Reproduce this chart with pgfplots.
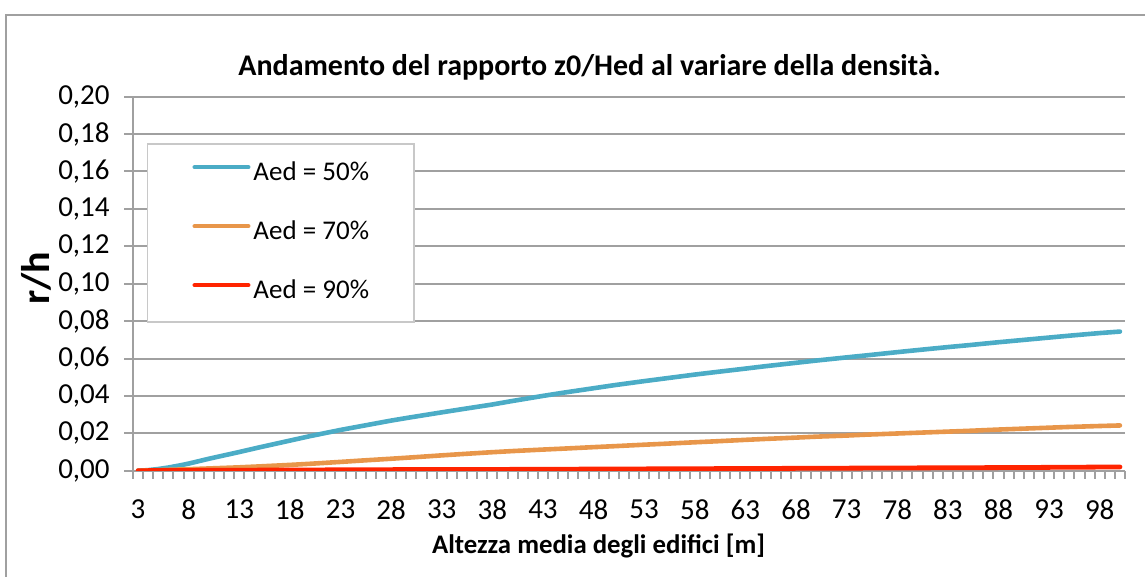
\documentclass[border=0pt]{standalone}
\usepackage{fontspec}
\setmainfont{Carlito}
\usepackage{pgfplots}
\usepackage{pgfplotstable}
\pgfplotsset{compat=1.18}
\definecolor{cblue}{HTML}{4BACC6}
\definecolor{corange}{HTML}{E8964A}
\definecolor{cred}{HTML}{FF2400}
\definecolor{cgrid}{HTML}{A0A0A0}
\definecolor{cleg}{HTML}{C8C8C8}

\pgfplotstableread{
x y
3 0
4 0.0003
5 0.0009
6 0.0017
7 0.0027
8 0.0038
10 0.0064
13 0.0100
15 0.0125
18 0.0161
20 0.0185
23 0.0218
25 0.0238
28 0.0268
30 0.0286
33 0.0312
35 0.0329
38 0.0354
40 0.0373
43 0.0400
45 0.0417
48 0.0441
50 0.0457
53 0.0479
55 0.0493
58 0.0514
60 0.0527
63 0.0546
65 0.0559
68 0.0577
70 0.0589
73 0.0606
75 0.0617
78 0.0634
80 0.0645
83 0.0661
85 0.0671
88 0.0687
90 0.0697
93 0.0712
95 0.0722
98 0.0736
100 0.0744
}\blueT

\pgfplotstableread{
x y
3 0
5 0.0003
8 0.0008
10 0.0012
13 0.0018
15 0.0023
18 0.0031
20 0.0037
23 0.0047
25 0.0054
28 0.0064
30 0.0071
33 0.0082
35 0.0089
38 0.0099
40 0.0105
43 0.0113
45 0.0118
48 0.0126
50 0.0131
53 0.0139
55 0.0144
58 0.0152
60 0.0157
63 0.0165
65 0.0170
68 0.0177
70 0.0182
73 0.0188
75 0.0193
78 0.0199
80 0.0203
83 0.0209
85 0.0213
88 0.0220
90 0.0224
93 0.0230
95 0.0234
98 0.0239
100 0.0242
}\orangeT

\pgfplotstableread{
x y
3 0
10 0.0002
20 0.0004
30 0.0006
40 0.0007
50 0.0009
60 0.0011
70 0.0013
80 0.0015
90 0.0017
100 0.0020
}\redT

\begin{document}
\begin{tikzpicture}
\path[use as bounding box] (0,0) rectangle (572.5pt,-288.5pt);
\draw[cgrid, line width=1pt] (3pt,-288.5pt) -- (3pt,-7.5pt) -- (572.5pt,-7.5pt);
\begin{axis}[
  at={(66.5pt,-235.35pt)}, anchor=south west,
  scale only axis, width=496pt, height=187pt,
  xmin=2.5, xmax=100.5, ymin=0, ymax=0.2,
  axis lines*=left,
  axis line style={cgrid, line width=1pt},
  /pgf/number format/assume math mode=true,
  xtick={3,8,...,98},
  minor xtick={2.5,3.5,...,100.5},
  major x tick style={draw=none},
  minor x tick style={cgrid, line width=1pt},
  ytick={0,0.02,0.04,0.06,0.08,0.10,0.12,0.14,0.16,0.18,0.20},
  y tick style={cgrid, line width=1pt},
  tick align=outside,
  major tick length=4.5pt,
  minor tick length=4pt,
  ymajorgrids,
  major grid style={cgrid, line width=1pt},
  yticklabel style={/pgf/number format/.cd, fixed, fixed zerofill, precision=2, use comma, /tikz/.cd,
    font=\fontsize{14.5}{17}\selectfont, anchor=east, inner sep=0pt, xshift=-7pt},
  xticklabel style={font=\fontsize{14.5}{17}\selectfont, anchor=north, inner sep=0pt, yshift=-10pt},
  legend style={at={(rel axis cs:0.0138,0.8754)}, anchor=north west, draw=cleg, line width=0.8pt,
    fill=white, inner xsep=22.5pt, inner ysep=9pt, row sep=17.5pt, column sep=1.5pt,
    font=\fontsize{13.5}{16}\selectfont,
    nodes={inner sep=0pt, text height=9pt, text depth=3pt}},
  legend cell align=left,
  legend image code/.code={\draw[#1, line width=2.3pt, line cap=round] (0pt,3.5pt) -- (26.7pt,3.5pt);},
]
\addplot[cblue, line width=2.3pt, line cap=round, line join=round] table[x=x,y=y] {\blueT};
\addlegendentry{Aed = 50\%}
\addplot[corange, line width=2.3pt, line cap=round, line join=round] table[x=x,y=y] {\orangeT};
\addlegendentry{Aed = 70\%}
\addplot[cred, line width=2.4pt, line cap=round, line join=round] table[x=x,y=y] {\redT};
\addlegendentry{Aed = 90\%}
\end{axis}
\node[anchor=base, font=\fontsize{15}{18}\selectfont\bfseries] at (294.75pt,-38pt) {Andamento del rapporto z0/Hed al variare della densità.};
\node[anchor=base, font=\fontsize{13.4}{16}\selectfont\bfseries] at (299.25pt,-276.5pt) {Altezza media degli edifici [m]};
\node[rotate=90, anchor=center, font=\fontsize{20}{22}\selectfont\bfseries] at (18.3pt,-139pt) {r/h};
\end{tikzpicture}
\end{document}
